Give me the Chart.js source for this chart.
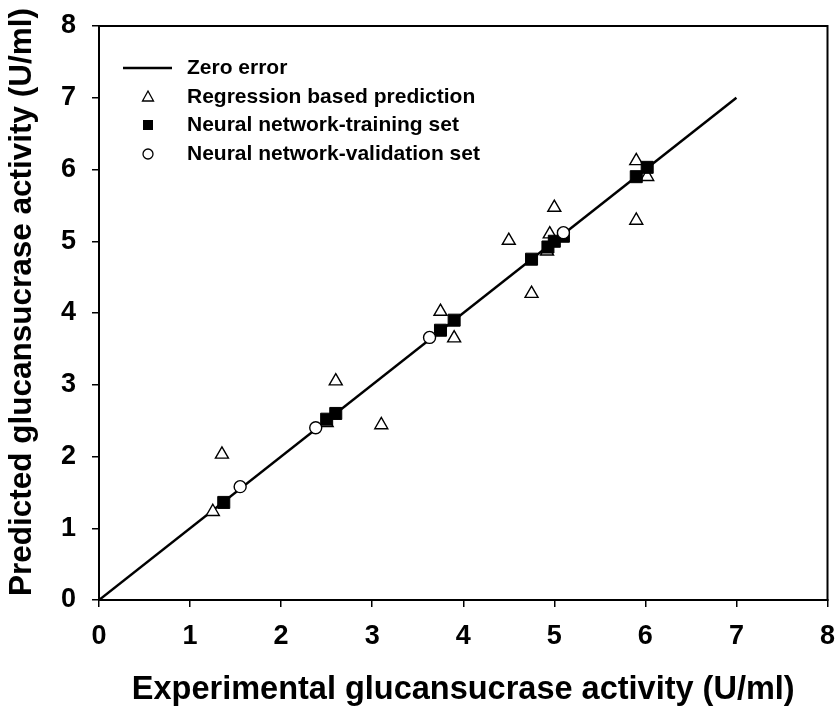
<!DOCTYPE html>
<html>
<head>
<meta charset="utf-8">
<script src="https://cdn.jsdelivr.net/npm/chart.js@4.4.1/dist/chart.umd.min.js"></script>
<style>
  html, body { margin: 0; padding: 0; background: #fff; }
  #wrap { width: 837px; height: 710px; }
</style>
</head>
<body>
<div id="wrap"><canvas id="c" width="837" height="710"></canvas></div>
<script>
// ---- data ----
const zeroX = [0, 7];
const zeroY = [0, 7];
const regX = [1.25, 1.35, 2.5, 2.6, 3.1, 3.75, 3.9, 4.5, 4.75, 4.92, 4.95, 5.0, 5.9, 5.9, 6.02];
const regY = [1.23, 2.03, 2.47, 3.05, 2.44, 4.02, 3.65, 5.01, 4.27, 4.86, 5.1, 5.47, 6.12, 5.29, 5.9];
const trainX = [1.37, 2.5, 2.6, 3.75, 3.9, 4.75, 4.93, 5.0, 5.1, 5.9, 6.02];
const trainY = [1.36, 2.52, 2.6, 3.76, 3.9, 4.75, 4.92, 5.0, 5.07, 5.9, 6.03];
const valX = [1.55, 2.38, 3.63, 5.1];
const valY = [1.58, 2.4, 3.66, 5.12];
const axisMin = 0, axisMax = 8, axisStep = 1;
const legendLabels = ["Zero error", "Regression based prediction", "Neural network-training set", "Neural network-validation set"];
const xTitle = "Experimental glucansucrase activity (U/ml)";
const yTitle = "Predicted glucansucrase activity (U/ml)";

const pts = (xs, ys) => xs.map((x, i) => ({x: x, y: ys[i]}));
const FONT = "'Liberation Sans', Arial, Helvetica, sans-serif";

const boxPlugin = {
  id: 'boxAndLegend',
  afterDraw(chart) {
    const {ctx, chartArea: a} = chart;
    ctx.save();
    ctx.strokeStyle = '#000';
    ctx.lineWidth = 2;
    ctx.strokeRect(a.left, a.top, a.right - a.left, a.bottom - a.top);

    // y axis title
    ctx.save();
    ctx.fillStyle = '#000';
    ctx.font = "bold 31.5px " + FONT;
    ctx.textAlign = 'center';
    ctx.textBaseline = 'middle';
    ctx.translate(22, 302);
    ctx.rotate(-Math.PI / 2);
    ctx.fillText(yTitle, 0, 0);
    ctx.restore();

    // legend
    const rows = [68, 97, 125, 154];
    const mx = 148, tx = 187;
    ctx.lineWidth = 2.5;
    ctx.beginPath(); ctx.moveTo(123, rows[0]); ctx.lineTo(172, rows[0]); ctx.stroke();
    // triangle
    ctx.lineWidth = 1.3;
    ctx.fillStyle = '#fff';
    ctx.beginPath();
    ctx.moveTo(mx, rows[1] - 6); ctx.lineTo(mx + 5.5, rows[1] + 4); ctx.lineTo(mx - 5.5, rows[1] + 4); ctx.closePath();
    ctx.fill(); ctx.stroke();
    // square
    ctx.fillStyle = '#000';
    ctx.fillRect(mx - 5, rows[2] - 5, 10, 10);
    // circle
    ctx.fillStyle = '#fff';
    ctx.beginPath(); ctx.arc(mx, rows[3], 5, 0, Math.PI * 2); ctx.fill(); ctx.stroke();

    ctx.fillStyle = '#000';
    ctx.font = "bold 21px " + FONT;
    ctx.textBaseline = 'middle';
    ctx.textAlign = 'left';
    legendLabels.forEach((t, i) => ctx.fillText(t, tx, rows[i]));
    ctx.restore();
  }
};

const tickFont = {family: FONT, size: 27, weight: 'bold'};
const titleFont = {family: FONT, size: 32.5, weight: 'bold'};

new Chart(document.getElementById('c'), {
  type: 'scatter',
  data: {
    datasets: [
      {
        label: legendLabels[0], data: pts(zeroX, zeroY), showLine: true,
        borderColor: '#000', borderWidth: 2.5, pointRadius: 0, order: 4
      },
      {
        label: legendLabels[1], data: pts(regX, regY), pointStyle: 'triangle',
        pointRadius: 7.5, borderColor: '#000', backgroundColor: '#fff', borderWidth: 1.4, order: 3
      },
      {
        label: legendLabels[2], data: pts(trainX, trainY), pointStyle: 'rect',
        pointRadius: 8.5, borderColor: '#000', backgroundColor: '#000', borderWidth: 1, order: 2
      },
      {
        label: legendLabels[3], data: pts(valX, valY), pointStyle: 'circle',
        pointRadius: 6, borderColor: '#000', backgroundColor: '#fff', borderWidth: 1.4, order: 1
      }
    ]
  },
  options: {
    responsive: false,
    animation: false,
    layout: {padding: {top: 26, right: 9, bottom: 0, left: 0}},
    plugins: {legend: {display: false}, tooltip: {enabled: false}},
    scales: {
      x: {
        type: 'linear', min: axisMin, max: axisMax,
        ticks: {stepSize: axisStep, color: '#000', font: tickFont, padding: 13, autoSkip: false, maxRotation: 0},
        grid: {display: true, drawOnChartArea: false, drawTicks: true, tickLength: 7, color: '#000', lineWidth: 1.5},
        border: {display: true, color: '#000', width: 2},
        title: {display: true, text: xTitle, color: '#000', font: titleFont, padding: {top: 0, bottom: 0}},
        afterFit: s => { s.height = 110; s.paddingRight = 9; s.paddingLeft = 0; }
      },
      y: {
        type: 'linear', min: axisMin, max: axisMax,
        ticks: {stepSize: axisStep, color: '#000', font: tickFont, padding: 16, autoSkip: false},
        grid: {display: true, drawOnChartArea: false, drawTicks: true, tickLength: 7, color: '#000', lineWidth: 1.5},
        border: {display: true, color: '#000', width: 2},
        title: {display: false, text: yTitle},
        afterFit: s => { s.width = 99; s.paddingTop = 0; s.paddingBottom = 0; }
      }
    }
  },
  plugins: [boxPlugin]
});
</script>
</body>
</html>
